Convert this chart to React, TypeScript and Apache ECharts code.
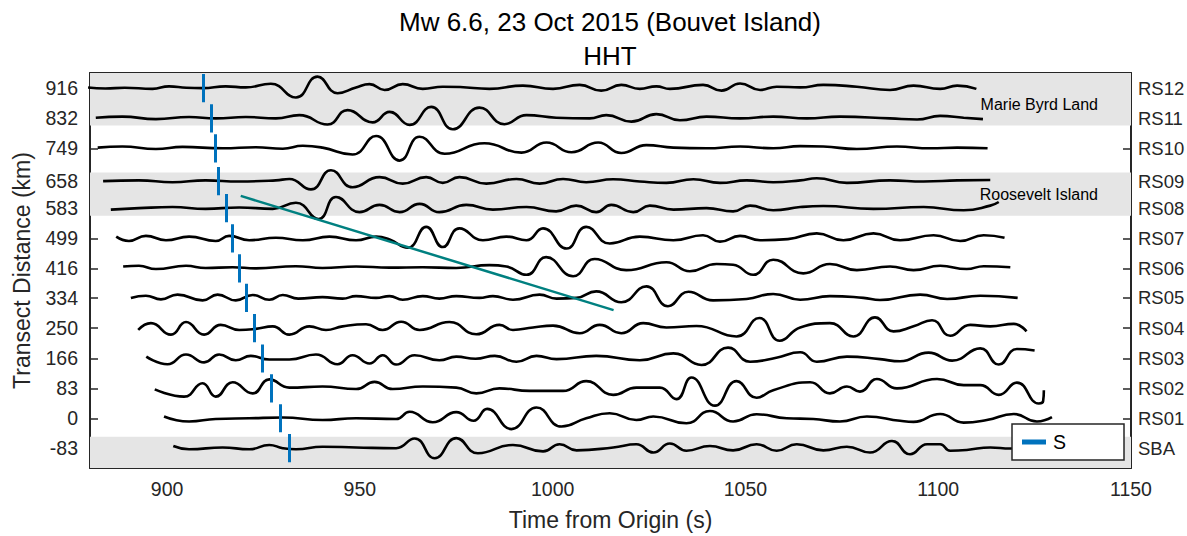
import React, { useEffect, useRef } from "react";
import * as echarts from "echarts";

// ---- data ----
const stations = ["RS12", "RS11", "RS10", "RS09", "RS08", "RS07", "RS06", "RS05", "RS04", "RS03", "RS02", "RS01", "SBA"];
const distances = [916, 832, 749, 658, 583, 499, 416, 334, 250, 166, 83, 0, -83];
const sArrivals = [909.5, 911.4, 912.6, 913.2, 915.3, 917.0, 918.7, 920.5, 922.6, 924.8, 926.9, 929.4, 931.7];
const xTicks = [900, 950, 1000, 1050, 1100, 1150];
const slopeLine = [[919.1, 617], [1015.8, 300]];
const bandLow = [812, 562, -138];
const bandHigh = [958, 682, -51];
const bandNames = ["Marie Byrd Land", "Roosevelt Island", ""];

// waveforms: [time (s), offset (km) from the trace's distance]
const rs12Wave = [[879.5,2],[884,-1],[889,1],[896.2,-2],[900.5,5],[905,1],[909.2,0],[915.2,5],[920.4,2],[926.9,12],[933.4,-26],[939.0,32],[944.2,-14],[949.0,2],[952.5,11],[956.4,-5],[961.1,11],[966.3,-2],[971.5,4],[976,3],[983.6,-2],[992.3,7],[1000.1,-2],[1007.0,9],[1012.6,-7],[1017.8,9],[1022.6,-2],[1026.9,5],[1030.4,-2],[1039.0,9],[1043.8,-7],[1048.6,13],[1053.8,-5],[1058.1,4],[1064.2,2],[1070.2,9],[1078.9,4],[1087.5,-5],[1093.6,7],[1100.5,-2],[1104.9,7],[1109.9,-2]];
const rs11Wave = [[881.5,2],[888.4,5],[897.1,-2],[905.7,4],[912.6,0],[920.4,4],[928.2,0],[934.3,9],[941.6,-17],[946.8,23],[953.3,-11],[957.7,18],[962.9,-18],[968.5,32],[974.1,-30],[981.0,30],[987.5,-16],[993.2,9],[1000.9,2],[1009.6,0],[1013.9,9],[1020.4,-9],[1026.9,12],[1033.0,-5],[1039.9,5],[1048.6,0],[1057.2,5],[1065.9,0],[1074.5,5],[1087.5,0],[1094.5,-3],[1100.5,7],[1106.6,2],[1111.6,-2]];
const rs10Wave = [[882,2],[888.4,5],[897.1,-2],[904.0,4],[914.4,0],[923.0,3],[930.0,-1],[935.2,7],[940.3,2],[948.1,-17],[954.2,34],[960.3,-34],[965.5,32],[972.0,-15],[982.3,14],[991.9,-12],[998.4,16],[1004.9,-11],[1011.8,16],[1017.8,-13],[1024.3,9],[1031.3,2],[1039.9,0],[1048.6,5],[1057.2,0],[1064.2,6],[1070.2,5],[1078.9,-2],[1089.3,5],[1098.0,0],[1104.9,2],[1112.8,0]];
const rs09Wave = [[883.4,0],[892.7,2],[901.4,-3],[910.0,2],[918.7,-1],[928.2,2],[931.7,6],[937.3,-23],[942.5,30],[948.1,-17],[955.1,11],[961.1,-7],[967.2,11],[971.5,-5],[975.8,11],[982.8,-7],[990.6,6],[996.6,-7],[1002.7,6],[1008.7,-3],[1015.7,5],[1022.6,-1],[1029.5,-5],[1036.5,5],[1043.4,-5],[1050.3,2],[1057.2,-3],[1064.2,2],[1068.5,8],[1076.3,-5],[1087.5,2],[1096.2,-1],[1105,2],[1113.5,3]];
const rs08Wave = [[885.4,-4],[892.7,0],[901.4,3],[910.0,-2],[918.7,2],[927.4,-2],[933.4,15],[939.3,-30],[943.8,31],[949.9,-11],[955.1,9],[960.3,-11],[965.5,12],[970.6,-11],[977.6,9],[984.5,-4],[993.2,3],[1000.9,-9],[1006.1,7],[1011.3,-11],[1015.2,9],[1020.9,-11],[1025.2,7],[1031.3,-4],[1039.9,0],[1046.8,-9],[1051.2,7],[1057.2,-6],[1064.2,3],[1070.2,6],[1083.2,-2],[1096.2,3],[1106.6,-6],[1113.5,7],[1115.7,17]];
const rs07Wave = [[886.8,5],[890.1,-7],[894.5,7],[899.7,-5],[905.7,5],[912.6,-7],[916.1,7],[921.3,-5],[928.2,2],[935.2,-5],[942.1,5],[949.0,-5],[954.2,5],[957.7,-3],[962.4,-26],[967.2,32],[971.5,-24],[975.8,28],[981.9,-5],[988.0,5],[993.2,-5],[997.5,28],[1003.6,-28],[1008.7,32],[1014.8,-14],[1022.6,5],[1031.3,-5],[1039.0,9],[1043.4,-9],[1048.6,7],[1053.8,-5],[1061,-2],[1068.5,14],[1075.4,-5],[1083.2,14],[1090.1,-5],[1098.8,9],[1105.7,-7],[1111.8,9],[1117.2,2]];
const rs06Wave = [[888.6,5],[892.7,7],[897.1,-2],[904.9,7],[910.0,1],[917.0,3],[923.0,0],[933.4,6],[940.3,1],[949.0,5],[957.7,2],[966.3,3],[975.0,1],[983.6,9],[988.0,5],[993.2,-18],[998.3,31],[1005.3,-22],[1010.9,26],[1019.1,-5],[1029.5,17],[1035.6,-8],[1042.5,12],[1046.8,10],[1052.0,-18],[1057.2,24],[1065.0,-14],[1071.9,12],[1078.9,-5],[1087.5,5],[1093.6,-5],[1100.5,7],[1107.4,-2],[1111.8,6],[1118.7,3]];
const rs05Wave = [[890.6,0],[894.5,6],[898.4,-4],[902.7,9],[909.2,-7],[913.1,9],[917.8,-7],[922.2,8],[926.5,-5],[930.0,8],[934,-2],[940.3,2],[945.5,-2],[949.0,5],[954.2,0],[957.7,5],[961.1,-5],[966.3,5],[970.6,-2],[975.0,5],[981.0,0],[984.5,5],[989.7,-5],[996.6,9],[1001.0,-2],[1006.2,0],[1011.3,18],[1017.8,-12],[1024.3,32],[1029.9,-23],[1035.2,17],[1041.6,-7],[1050.3,-3],[1057.2,11],[1064.2,-5],[1071.9,5],[1080.6,0],[1084.9,-6],[1095.3,9],[1102.3,-3],[1110.9,6],[1120.6,0]];
const rs04Wave = [[892.5,-5],[895.8,14],[901.0,-18],[904.9,17],[909.6,-18],[913.9,9],[918.7,-5],[923.0,-2],[927.4,5],[931.7,-18],[936.9,5],[941.2,-5],[945.5,5],[951.6,11],[955.9,-5],[960.7,18],[965.5,-5],[973.2,17],[980.2,-17],[986.2,9],[989.7,-5],[994.9,2],[1000.1,7],[1007.0,-14],[1012.2,9],[1017.8,-14],[1023.5,14],[1029.5,2],[1037.3,6],[1047.7,-23],[1053.6,28],[1058.9,-35],[1064.2,2],[1071.9,14],[1078.0,-23],[1083.6,30],[1088.4,-9],[1093.6,5],[1098.4,22],[1103.1,-21],[1108.3,9],[1113.5,5],[1119.6,12],[1122.9,-9]];
const rs03Wave = [[894.6,5],[900.1,-16],[904.9,11],[909.6,-11],[913.5,11],[917.8,-5],[921.7,7],[926.5,-3],[931.7,-3],[938.6,11],[944.2,-16],[948.1,9],[952.5,-14],[955.9,9],[959.4,-17],[964.2,9],[970.6,-5],[975.0,5],[980,-1],[985,7],[990.6,-9],[995.8,7],[1001.0,-2],[1011.3,7],[1022.6,-5],[1031.3,14],[1038.6,-18],[1045.5,30],[1051.2,-9],[1058,2],[1064.2,17],[1068.5,-9],[1076.3,5],[1084.9,-2],[1090.1,-8],[1097.5,16],[1103.6,-6],[1110.9,28],[1115.7,-17],[1120.4,26],[1125.0,22]];
const rs02Wave = [[896.8,-3],[904.4,-23],[909.2,14],[912.6,-23],[917.0,17],[922.2,-14],[926.5,25],[931.7,2],[940.3,5],[949.0,-2],[953.8,18],[958.5,-2],[966.3,5],[975.0,2],[980.2,-14],[986.2,0],[994.0,-7],[1002.7,-7],[1008.7,20],[1015.7,-18],[1021.7,2],[1027.8,2],[1032.1,-30],[1036.0,30],[1042.1,-48],[1047.7,20],[1052.9,-26],[1057.2,-5],[1066.8,17],[1071.9,-14],[1076.3,5],[1079.7,-9],[1084.1,26],[1089.3,0],[1099.7,26],[1106.6,9],[1110.9,9],[1115.7,-18],[1120.4,16],[1126.1,-42],[1127.2,-36],[1127.4,-5]];
const rs01Wave = [[899.2,5],[905.7,-9],[912.6,-2],[921.3,0],[930.0,2],[940.3,-5],[949.0,0],[959.4,-2],[962.9,18],[968.9,-11],[975.0,17],[979.5,-7],[983.0,26],[989.3,-30],[995.8,30],[1002.3,-23],[1008.7,0],[1014.8,14],[1021.7,-5],[1026.1,5],[1034.7,-14],[1040.8,20],[1046.8,-9],[1052.9,11],[1060.7,0],[1067.6,-2],[1074.5,-9],[1081.5,5],[1090.1,-7],[1093.6,-10],[1100.5,12],[1106.6,-12],[1112.6,-5],[1119.6,12],[1125.6,-9],[1129.5,3]];
const sbaWave = [[901.6,6],[905.7,-3],[914.4,2],[921.3,-3],[926.5,9],[930.0,0],[933.4,-3],[940.3,4],[949.0,2],[959.4,0],[964.2,27],[969.4,-28],[975.0,28],[980.6,-14],[989.7,9],[997.5,-9],[1001.8,11],[1006.2,-6],[1015.7,2],[1021.7,11],[1026.1,-12],[1030.4,13],[1034.7,-7],[1040.8,6],[1046.8,-6],[1052.9,11],[1058.1,-7],[1063.3,11],[1070.2,-6],[1076.3,4],[1082.3,-12],[1088.0,20],[1092.7,-17],[1097.1,11],[1100.5,11],[1103.1,-7],[1107.4,-5],[1113.5,2],[1118.7,-1],[1124,0]];

const waves = [rs12Wave, rs11Wave, rs10Wave, rs09Wave, rs08Wave, rs07Wave, rs06Wave, rs05Wave, rs04Wave, rs03Wave, rs02Wave, rs01Wave, sbaWave];

const FONT = "'Liberation Sans', Arial, Helvetica, sans-serif";
const AX = "#262626";
const S_HALF = 39;

function buildOption() {
  const xAxisBase = {
    type: "value",
    min: 880,
    max: 1150,
    splitLine: { show: false },
    axisLine: { show: true, onZero: false, lineStyle: { color: AX, width: 2 } },
    axisTick: { show: true, inside: true, length: 10, customValues: xTicks, lineStyle: { color: AX, width: 1.5 } },
  };
  const yAxisBase = {
    type: "value",
    min: -138,
    max: 958,
    splitLine: { show: false },
    axisLine: { show: true, onZero: false, lineStyle: { color: AX, width: 2 } },
    axisTick: { show: true, inside: true, length: 8, customValues: distances, lineStyle: { color: AX, width: 1.5 } },
  };
  return {
    animation: false,
    textStyle: { fontFamily: FONT },
    grid: { left: 90, right: 56, top: 73, bottom: 68, show: false, containLabel: false, outerBoundsMode: "none" },
    graphic: [
      { type: "text", x: 610, y: 22, z: 10, style: { text: "Mw 6.6, 23 Oct 2015 (Bouvet Island)", fontSize: 26, fontFamily: FONT, fill: "#000", textAlign: "center", textVerticalAlign: "middle" } },
      { type: "text", x: 610, y: 56, z: 10, style: { text: "HHT", fontSize: 26, fontFamily: FONT, fill: "#000", textAlign: "center", textVerticalAlign: "middle" } },
    ],
    legend: {
      show: true,
      data: [{ name: "S", icon: "rect", itemStyle: { color: "#0072BD" } }],
      left: 1012,
      top: 424,
      itemWidth: 22,
      itemHeight: 3,
      padding: [8, 58, 8, 10],
      borderColor: AX,
      borderWidth: 1.5,
      backgroundColor: "#fff",
      selectedMode: false,
      z: 10,
      textStyle: { fontSize: 19.5, color: "#000", fontFamily: FONT, padding: [0, 0, 0, 3] },
    },
    xAxis: [
      {
        ...xAxisBase,
        position: "bottom",
        name: "Time from Origin (s)",
        nameLocation: "middle",
        nameGap: 40,
        nameTextStyle: { fontSize: 23, color: AX, fontFamily: FONT },
        axisLabel: { customValues: xTicks, fontSize: 19.5, color: AX, margin: 11, fontFamily: FONT, formatter: (v: number) => String(v) },
      },
      { ...xAxisBase, position: "top", axisLabel: { show: false } },
    ],
    yAxis: [
      {
        ...yAxisBase,
        position: "left",
        name: "Transect Distance (km)",
        nameLocation: "middle",
        nameGap: 57,
        nameTextStyle: { fontSize: 23, color: AX, fontFamily: FONT },
        axisLabel: { customValues: distances, fontSize: 19.5, color: AX, margin: 12, fontFamily: FONT, formatter: (v: number) => String(v) },
      },
      {
        ...yAxisBase,
        position: "right",
        axisLabel: {
          customValues: distances,
          fontSize: 18.5,
          color: AX,
          margin: 7,
          fontFamily: FONT,
          formatter: (v: number) => {
            const i = distances.indexOf(v);
            return i >= 0 ? stations[i] : "";
          },
        },
      },
    ],
    series: [
      {
        type: "line",
        name: "bands",
        data: [],
        silent: true,
        z: 1,
        markArea: {
          silent: true,
          itemStyle: { color: "#e5e5e5" },
          label: { show: true, position: "insideBottomRight", offset: [-28, -8], fontSize: 16, color: "#000", fontFamily: FONT },
          data: bandLow.map((lo, i) => [{ yAxis: lo, name: bandNames[i] }, { yAxis: bandHigh[i] }]),
        },
      },
      ...waves.map((w, i) => ({
        type: "line",
        name: stations[i],
        data: w.map(([t, a]) => [t, distances[i] + a]),
        smooth: 0.5,
        showSymbol: false,
        symbol: "none",
        silent: true,
        z: 2,
        lineStyle: { color: "#000", width: 2.6 },
        itemStyle: { color: "#000" },
      })),
      {
        type: "lines",
        name: "S",
        coordinateSystem: "cartesian2d",
        xAxisIndex: 0,
        yAxisIndex: 0,
        silent: true,
        z: 3,
        lineStyle: { color: "#0072BD", width: 3, opacity: 1 },
        itemStyle: { color: "#0072BD" },
        data: sArrivals.map((t, i) => ({ coords: [[t, distances[i] - S_HALF], [t, distances[i] + S_HALF]] })),
      },
      {
        type: "line",
        name: "slope",
        data: slopeLine,
        showSymbol: false,
        symbol: "none",
        silent: true,
        z: 3,
        lineStyle: { color: "#008080", width: 2.5 },
        itemStyle: { color: "#008080" },
      },
    ],
  };
}

export default function App() {
  const ref = useRef<HTMLDivElement>(null);
  useEffect(() => {
    if (!ref.current) return;
    const chart = echarts.init(ref.current, null, { renderer: "svg" });
    chart.setOption(buildOption() as any);
    return () => chart.dispose();
  }, []);
  return (
    <div
      ref={ref}
      style={{ position: "fixed", left: 0, top: 0, width: 1187, height: 536, background: "#fff" }}
    />
  );
}
